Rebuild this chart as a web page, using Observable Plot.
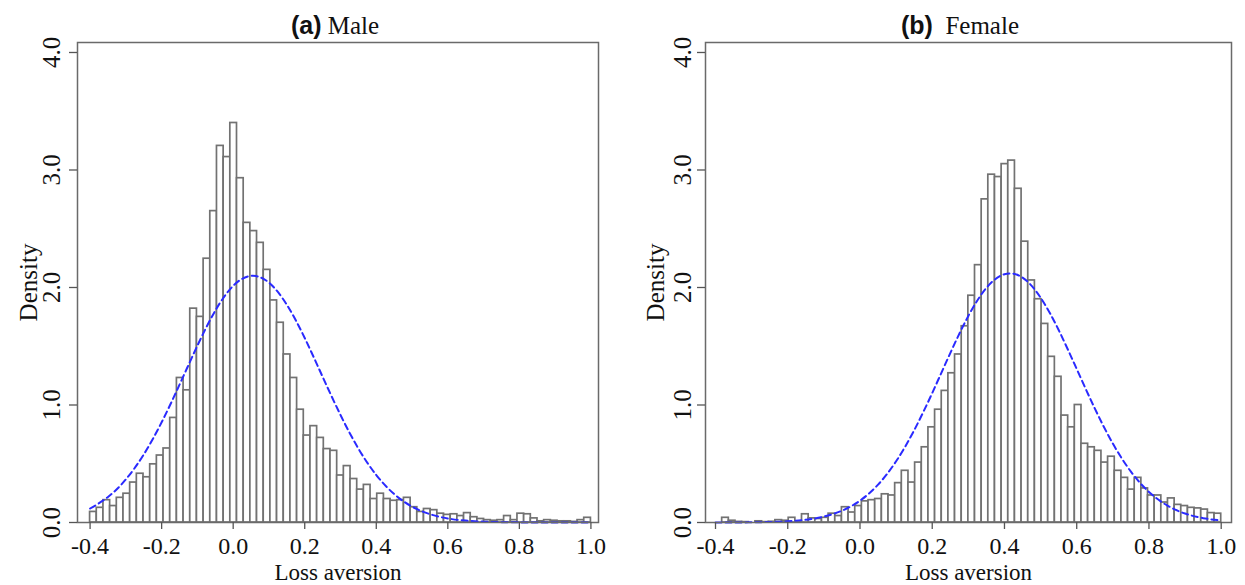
<!DOCTYPE html>
<html><head><meta charset="utf-8">
<script src="https://cdn.jsdelivr.net/npm/d3@7"></script>
<script src="https://cdn.jsdelivr.net/npm/@observablehq/plot@0.6"></script>
<style>
body{margin:0;background:#fff;}
#wrap{position:relative;width:1245px;height:585px;overflow:hidden;background:#fff;}
.panel{position:absolute;top:0;}
.title{position:absolute;top:13px;font-size:25px;line-height:25px;white-space:pre;transform:translateX(-50%);font-family:"Liberation Serif","Times New Roman",serif;color:#111;}
.title b{font-family:"Liberation Sans",Arial,sans-serif;font-weight:bold;}
</style></head><body><div id="wrap"></div>
<script>
// ---- data ----
const xTicks = [-0.4, -0.2, 0.0, 0.2, 0.4, 0.6, 0.8, 1.0];
const yTicks = [0, 1, 2, 3, 4];
const panelTitles = [["(a)", " ", "Male"], ["(b)", "  ", "Female"]];
const xLabel = "Loss aversion";
const yLabel = "Density";

// histogram bins: equal-width bins covering this range
const maleBinRange = [-0.4, 1.0];
const maleDensity = [
  0.09, 0.125, 0.19, 0.14, 0.21, 0.245, 0.34, 0.415, 0.385, 0.495,
  0.57, 0.63, 0.89, 1.23, 1.125, 1.82, 1.75, 2.245, 2.65, 3.205,
  3.11, 3.40, 2.93, 2.55, 2.48, 2.38, 2.15, 1.89, 1.70, 1.43,
  1.23, 0.96, 0.74, 0.82, 0.72, 0.625, 0.61, 0.40, 0.48, 0.37,
  0.28, 0.32, 0.20, 0.245, 0.20, 0.185, 0.19, 0.21, 0.13, 0.09,
  0.115, 0.105, 0.075, 0.065, 0.07, 0.055, 0.08, 0.045, 0.03, 0.02,
  0.015, 0.02, 0.055, 0.02, 0.075, 0.07, 0.035, 0.01, 0.02, 0.015,
  0.01, 0.01, 0.005, 0.02, 0.04
];
const femaleBinRange = [-0.4, 1.0];
const femaleDensity = [
  0.0, 0.04, 0.015, 0.005, 0.003, 0.0, 0.01, 0.003, 0.006, 0.02,
  0.015, 0.04, 0.005, 0.07, 0.035, 0.03, 0.04, 0.075, 0.055, 0.13,
  0.085, 0.14, 0.18, 0.19, 0.20, 0.24, 0.23, 0.335, 0.44, 0.34,
  0.51, 0.64, 0.81, 0.96, 1.12, 1.27, 1.43, 1.67, 1.93, 2.19,
  2.75, 2.96, 2.94, 3.05, 3.08, 2.84, 2.39, 2.06, 1.90, 1.69,
  1.41, 1.24, 0.91, 0.81, 1.00, 0.67, 0.64, 0.61, 0.51, 0.56,
  0.44, 0.38, 0.28, 0.38, 0.29, 0.23, 0.23, 0.17, 0.205, 0.15,
  0.14, 0.125, 0.12, 0.11, 0.08, 0.075
];

// dashed fitted curves, read at these x positions
const curveX = [-0.40, -0.35, -0.30, -0.25, -0.20, -0.15, -0.10, -0.05, 0.00, 0.05,
  0.10, 0.15, 0.20, 0.25, 0.30, 0.35, 0.40, 0.45, 0.50, 0.55,
  0.60, 0.65, 0.70, 0.75, 0.80, 0.85, 0.90, 0.95, 1.00];
const maleCurve = [0.119, 0.217, 0.367, 0.579, 0.853, 1.173, 1.505, 1.803, 2.014, 2.099,
  2.041, 1.853, 1.570, 1.240, 0.915, 0.629, 0.404, 0.242, 0.135, 0.071,
  0.034, 0.016, 0.007, 0.003, 0.001, 0.0003, 0.0001, 0.0, 0.0];
const femaleCurve = [0.0002, 0.0005, 0.0015, 0.004, 0.010, 0.023, 0.050, 0.100, 0.186, 0.322,
  0.521, 0.785, 1.102, 1.442, 1.758, 1.997, 2.113, 2.084, 1.914, 1.638,
  1.306, 0.971, 0.672, 0.433, 0.260, 0.146, 0.076, 0.037, 0.017];

// ---- drawing ----
const serif = "'Liberation Serif','Times New Roman',serif";
const fmt = d => d.toFixed(1);

function makePanel({density, range, curve, xDomain, width, marginLeft, marginRight, yTickDx, yLabelDx}) {
  const w = (range[1] - range[0]) / density.length;
  const bins = density.map((d, i) => ({x1: range[0] + i * w, x2: range[0] + (i + 1) * w, d}));
  const pts = curveX.map((x, i) => ({x, y: curve[i]}));
  return Plot.plot({
    width, height: 585,
    marginTop: 42, marginBottom: 63, marginLeft, marginRight,
    x: {domain: xDomain, label: null},
    y: {domain: [0, 4.085], label: null},
    style: {fontFamily: serif, fontSize: "25px", color: "#111", background: "white", overflow: "visible"},
    marks: [
      Plot.rectY(bins, {x1: "x1", x2: "x2", y: "d", fill: "white", stroke: "#727272", strokeWidth: 1.7}),
      Plot.line(pts, {x: "x", y: "y", curve: "natural", stroke: "#2a2aff", strokeWidth: 2, strokeDasharray: "6,4"}),
      Plot.frame({stroke: "#6a6a6a", strokeWidth: 1.5}),
      Plot.axisX(xTicks, {tickSize: 7, tickFormat: () => "", stroke: "#555", strokeWidth: 1.3, label: null}),
      Plot.axisY(yTicks, {tickSize: 8, tickFormat: () => "", stroke: "#555", strokeWidth: 1.3, label: null}),
      Plot.text(xTicks, {x: d => d, text: fmt, frameAnchor: "bottom", dy: 24, lineAnchor: "middle", fontSize: 24, fill: "#111"}),
      Plot.text(yTicks, {y: d => d, text: fmt, frameAnchor: "left", dx: -yTickDx, rotate: -90, textAnchor: "middle", lineAnchor: "middle", fontSize: 25, fill: "#111"}),
      Plot.text([xLabel], {text: d => d, frameAnchor: "bottom", dy: 50, lineAnchor: "middle", fontSize: 23, fill: "#111"}),
      Plot.text([yLabel], {text: d => d, frameAnchor: "left", dx: -yLabelDx, rotate: -90, textAnchor: "middle", lineAnchor: "middle", fontSize: 25, fill: "#111"})
    ]
  });
}

const wrap = document.getElementById("wrap");
const panels = [
  {left: 0, titleX: 335, t: panelTitles[0],
   opts: {density: maleDensity, range: maleBinRange, curve: maleCurve, xDomain: [-0.4352, 1.0212], width: 622, marginLeft: 77, marginRight: 24, yTickDx: 26, yLabelDx: 49}},
  {left: 622, titleX: 960, t: panelTitles[1],
   opts: {density: femaleDensity, range: femaleBinRange, curve: femaleCurve, xDomain: [-0.4277, 1.0285], width: 623, marginLeft: 83, marginRight: 14, yTickDx: 23, yLabelDx: 50}}
];
for (const p of panels) {
  const div = document.createElement("div");
  div.className = "panel";
  div.style.left = p.left + "px";
  div.appendChild(makePanel(p.opts));
  wrap.appendChild(div);
  const t = document.createElement("div");
  t.className = "title";
  t.style.left = p.titleX + "px";
  const b = document.createElement("b"); b.textContent = p.t[0];
  const s = document.createElement("span"); s.textContent = p.t[1] + p.t[2];
  t.appendChild(b); t.appendChild(s);
  wrap.appendChild(t);
}
</script>
</body></html>
